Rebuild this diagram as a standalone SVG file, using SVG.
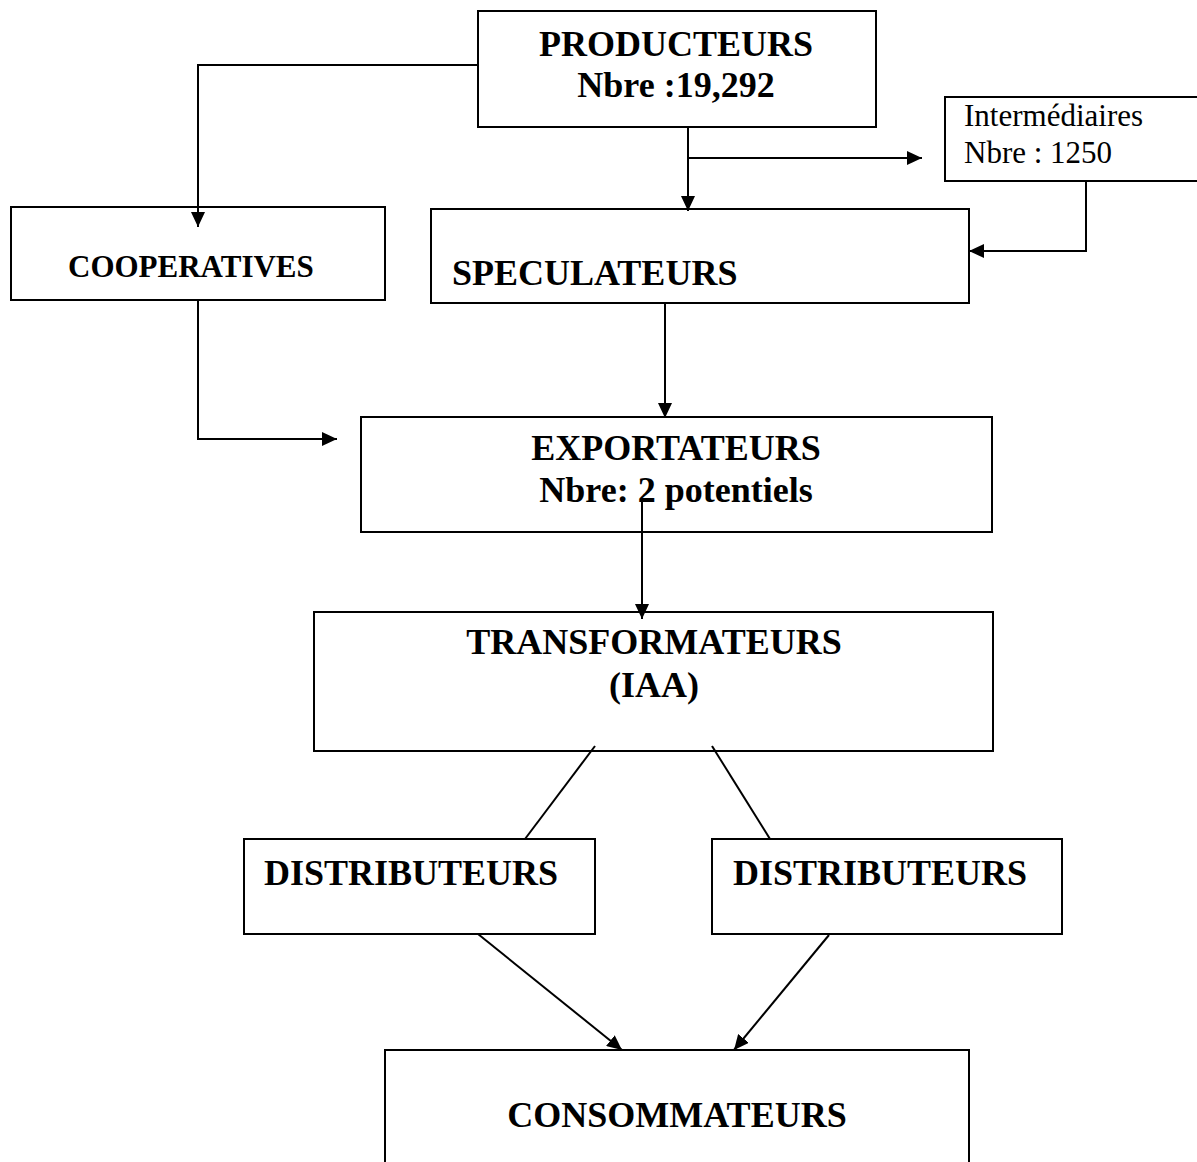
<svg xmlns="http://www.w3.org/2000/svg" width="1197" height="1162" viewBox="0 0 1197 1162">
<style>
.box{fill:#fff;stroke:#000;stroke-width:2}
.b{font-family:"Liberation Serif","Times New Roman",serif;font-weight:bold;font-size:36px;fill:#000}
.r{font-family:"Liberation Serif","Times New Roman",serif;font-size:31px;fill:#000}
.c{stroke:#000;stroke-width:2;fill:none}
.a{marker-end:url(#arr)}
</style>
<defs>
<marker id="arr" markerUnits="userSpaceOnUse" markerWidth="15" markerHeight="14" refX="15" refY="7" orient="auto">
<path d="M0,0 L15,7 L0,14 Z" fill="#000"/>
</marker>
</defs>
<rect width="1197" height="1162" fill="#fff"/>
<g id="producteurs">
<rect class="box" x="478" y="11" width="398" height="116"/>
<text class="b" x="676" y="56" text-anchor="middle">PRODUCTEURS</text>
<text class="b" x="676" y="97" text-anchor="middle">Nbre :19,292</text>
</g>
<g id="intermediaires">
<rect class="box" x="945" y="97" width="260" height="84"/>
<text class="r" x="964" y="126">Intermédiaires</text>
<text class="r" x="964" y="163">Nbre : 1250</text>
</g>
<g id="cooperatives">
<rect class="box" x="11" y="207" width="374" height="93"/>
<text class="b" x="68" y="277" style="font-size:31px">COOPERATIVES</text>
</g>
<g id="speculateurs">
<rect class="box" x="431" y="209" width="538" height="94"/>
<text class="b" x="452" y="285">SPECULATEURS</text>
</g>
<g id="exportateurs">
<rect class="box" x="361" y="417" width="631" height="115"/>
<text class="b" x="676" y="460" text-anchor="middle">EXPORTATEURS</text>
<text class="b" x="676" y="502" text-anchor="middle">Nbre: 2 potentiels</text>
</g>
<g id="transformateurs">
<rect class="box" x="314" y="612" width="679" height="139"/>
<text class="b" x="654" y="654" text-anchor="middle">TRANSFORMATEURS</text>
<text class="b" x="654" y="697" text-anchor="middle">(IAA)</text>
</g>
<g id="distributeurs1">
<rect class="box" x="244" y="839" width="351" height="95"/>
<text class="b" x="264" y="885">DISTRIBUTEURS</text>
</g>
<g id="distributeurs2">
<rect class="box" x="712" y="839" width="350" height="95"/>
<text class="b" x="733" y="885">DISTRIBUTEURS</text>
</g>
<g id="consommateurs">
<rect class="box" x="385" y="1050" width="584" height="130"/>
<text class="b" x="677" y="1127" text-anchor="middle">CONSOMMATEURS</text>
</g>
<g id="connectors">
<path class="c a" d="M478,65 H198 V227"/>
<path class="c a" d="M198,300 V439 H337"/>
<path class="c a" d="M688,127 V211"/>
<path class="c a" d="M688,158 H922"/>
<path class="c a" d="M1086,181 V251 H969"/>
<path class="c a" d="M665,303 V418"/>
<path class="c a" d="M642,500 V619"/>
<path class="c" d="M595,746 L525,839"/>
<path class="c" d="M712,746 L770,839"/>
<path class="c a" d="M478,934 L622,1050"/>
<path class="c a" d="M829,935 L734,1050"/>
</g>
</svg>
